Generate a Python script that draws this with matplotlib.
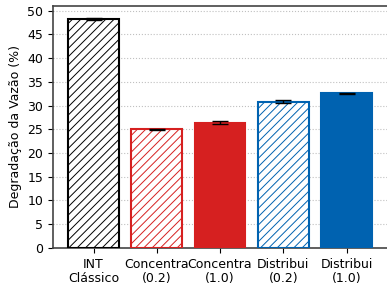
import matplotlib.pyplot as plt

labels = ["INT\nClássico", "Concentra\n(0.2)", "Concentra\n(1.0)", "Distribui\n(0.2)", "Distribui\n(1.0)"]
values = [48.3, 25.0, 26.4, 30.8, 32.6]
errors = [0.25, 0.15, 0.25, 0.3, 0.15]
edge_colors = ["black", "#d62020", "#d62020", "#0062b0", "#0062b0"]
face_colors = ["white", "white", "#d62020", "white", "#0062b0"]
hatches = ["////", "////", "", "////", ""]

plt.rcParams["hatch.linewidth"] = 0.7
plt.rcParams["font.size"] = 9

fig = plt.figure(figsize=(3.87, 2.84), dpi=100)
ax = fig.add_axes([0.137, 0.127, 0.863, 0.852])

x = range(len(values))
for i in x:
    plt.rcParams["hatch.color"] = edge_colors[i]
    ax.bar(i, values[i], width=0.8, color=face_colors[i], edgecolor=edge_colors[i],
           hatch=hatches[i], linewidth=1.5, zorder=3)
ax.errorbar(list(x), values, yerr=errors, fmt="none", ecolor="black",
            elinewidth=1, capsize=6, capthick=1, zorder=4)

ax.set_ylim(0, 51)
ax.set_yticks(range(0, 51, 5))
ax.set_xticks(list(x))
ax.set_xticklabels(labels, linespacing=1.1)
ax.set_ylabel("Degradação da Vazão (%)")
ax.yaxis.grid(True, linestyle=":", color="#c0c0c0", zorder=0)
ax.spines["right"].set_visible(False)
for s in ["left", "top", "bottom"]:
    ax.spines[s].set_color("#444444")
    ax.spines[s].set_linewidth(1.2)
ax.tick_params(labelsize=9)

fig.savefig("out.png", dpi=100)
